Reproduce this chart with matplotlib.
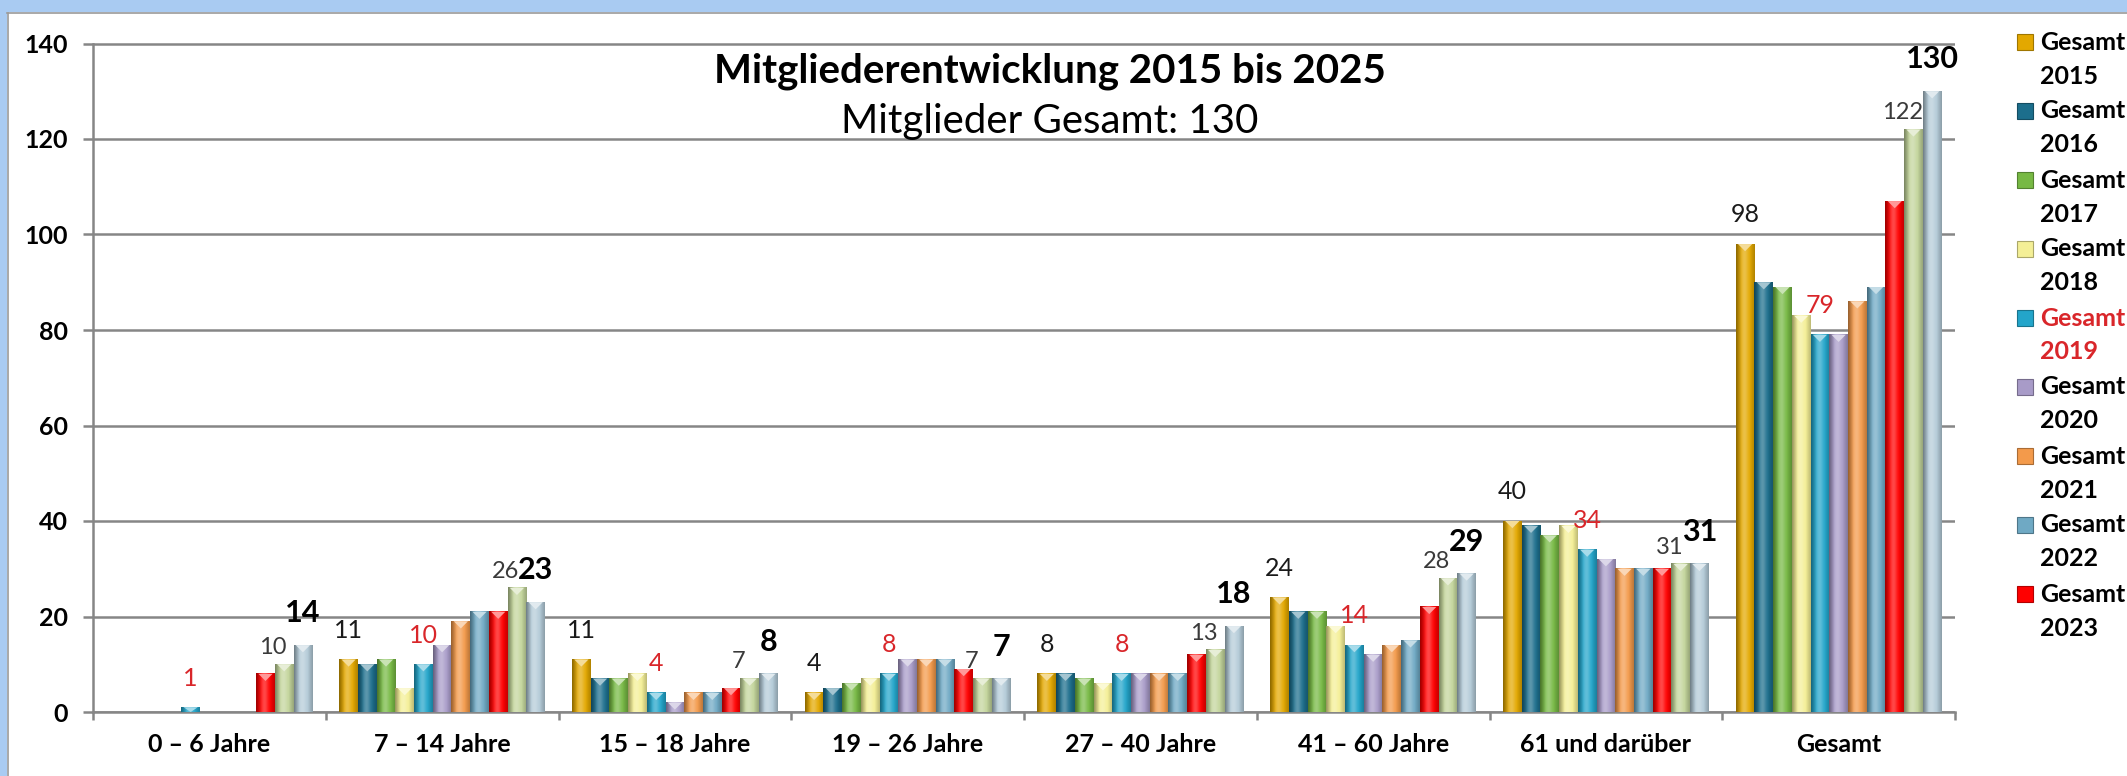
import numpy as np
import matplotlib
matplotlib.use("Agg")
import matplotlib.pyplot as plt
from matplotlib.colors import to_rgb
from matplotlib.patches import Rectangle
from matplotlib.lines import Line2D

# --- Chart data ---
categories = ["0 – 6 Jahre", "7 – 14 Jahre", "15 – 18 Jahre", "19 – 26 Jahre",
              "27 – 40 Jahre", "41 – 60 Jahre", "61 und darüber", "Gesamt"]
years = [2015, 2016, 2017, 2018, 2019, 2020, 2021, 2022, 2023, 2024, 2025]

v2015 = [0, 11, 11, 4, 8, 24, 40, 98]
v2016 = [0, 10, 7, 5, 8, 21, 39, 90]
v2017 = [0, 11, 7, 6, 7, 21, 37, 89]
v2018 = [0, 5, 8, 7, 6, 18, 39, 83]
v2019 = [1, 10, 4, 8, 8, 14, 34, 79]
v2020 = [0, 14, 2, 11, 8, 12, 32, 79]
v2021 = [0, 19, 4, 11, 8, 14, 30, 86]
v2022 = [0, 21, 4, 11, 8, 15, 30, 89]
v2023 = [8, 21, 5, 9, 12, 22, 30, 107]
v2024 = [10, 26, 7, 7, 13, 28, 31, 122]
v2025 = [14, 23, 8, 7, 18, 29, 31, 130]

series = [v2015, v2016, v2017, v2018, v2019, v2020, v2021, v2022, v2023, v2024, v2025]
series_names = [f"Gesamt {y}" for y in years]
legend_count = 9  # the legend box in the original is cut after 2023

colors = ["#E3A800", "#1C6E8C", "#77B944", "#F4EF96", "#23A5CA", "#A89BC8",
          "#F39A4B", "#6FA9C4", "#FF0000", "#C3D59B", "#B4CBD8"]

title = "Mitgliederentwicklung 2015 bis 2025"
subtitle = "Mitglieder Gesamt: 130"

plt.rcParams['font.family'] = ['Lato', 'DejaVu Sans']

W, H = 2127, 776
fig = plt.figure(figsize=(W / 100, H / 100), dpi=100)
fig.patch.set_facecolor("white")

# light blue window frame (top + left) with thin gray inner line
fig.add_artist(Rectangle((0, 1 - 12 / H), 1, 12 / H, transform=fig.transFigure,
                         facecolor="#A9CBF2", edgecolor="none"))
fig.add_artist(Rectangle((0, 0), 7 / W, 1, transform=fig.transFigure,
                         facecolor="#A9CBF2", edgecolor="none"))
fig.add_artist(Line2D([7 / W, 1], [1 - 13 / H, 1 - 13 / H], transform=fig.transFigure,
                      color="#9A9A9A", lw=1.2))
fig.add_artist(Line2D([7.5 / W, 7.5 / W], [0, 1 - 13 / H], transform=fig.transFigure,
                      color="#9A9A9A", lw=1.2))

ax = fig.add_axes([93 / W, 1 - 712 / H, (1955 - 93) / W, (712 - 43.5) / H])

n = len(series)
cluster = 0.884
bw = cluster / n
x = np.arange(len(categories))

# horizontal shading profile for the bevelled bar look
t = np.linspace(0, 1, 40)
dark = 0.38 * np.clip(1 - t / 0.3, 0, 1) + 0.22 * np.clip((t - 0.72) / 0.28, 0, 1)
light = 0.28 * np.exp(-((t - 0.45) / 0.2) ** 2)

tri_h = 1.5  # bevel tip height in data units

for i, (vals, col) in enumerate(zip(series, colors)):
    xpos = x - cluster / 2 + (i + 0.5) * bw
    bars = ax.bar(xpos, vals, width=bw, color=col, edgecolor="none", zorder=2)
    c = np.array(to_rgb(col))
    grad = c[None, :] * (1 - dark[:, None])
    grad = grad + (1 - grad) * light[:, None]
    for b, v in zip(bars, vals):
        if v <= 0:
            continue
        x0 = b.get_x()
        ax.imshow(grad[None, :, :], extent=(x0, x0 + bw, 0, v), aspect="auto",
                  interpolation="bilinear", zorder=3)
        h = min(tri_h, v)
        tip = c + (1 - c) * 0.6
        ax.fill([x0 + 0.12 * bw, x0 + 0.88 * bw, x0 + 0.5 * bw], [v, v, v - h],
                color=tip, zorder=4, lw=0)

    # data labels only for 2015, 2019, 2024, 2025
    y = years[i]
    for xc, v in zip(xpos, vals):
        if v <= 0:
            continue
        if y == 2015:
            ax.annotate(str(v), (xc, v), xytext=(0, 21), textcoords="offset points",
                        ha="center", va="center", fontsize=18, color="#1A1A1A", zorder=6)
        elif y == 2019:
            ax.annotate(str(v), (xc, v), xytext=(0, 21), textcoords="offset points",
                        ha="center", va="center", fontsize=18, color="#D9262A", zorder=6)
        elif y == 2024:
            ax.annotate(str(v), (xc, v), xytext=(-8, 12), textcoords="offset points",
                        ha="center", va="center", fontsize=17, color="#3A3A3A", zorder=6)
        elif y == 2025:
            ax.annotate(str(v), (xc, v), xytext=(0, 23), textcoords="offset points",
                        ha="center", va="center", fontsize=22, fontweight="bold",
                        color="black", zorder=6)

ax.set_xlim(-0.5, len(categories) - 0.5)
ax.set_ylim(0, 140)
ax.set_yticks(np.arange(0, 141, 20))
ax.set_xticks(x)
ax.set_xticklabels(categories, fontsize=18, fontweight="bold")
ax.set_xticks(np.arange(-0.5, len(categories), 1), minor=True)
for lab in ax.get_yticklabels():
    lab.set_fontweight("bold")
    lab.set_fontsize(18)

grid_col = "#868686"
ax.grid(axis="y", color=grid_col, lw=1.8, zorder=0)
ax.set_axisbelow(True)
ax.tick_params(axis="y", length=7, width=1.8, color=grid_col, pad=11)
ax.tick_params(axis="x", which="major", length=0, pad=15)
ax.tick_params(axis="x", which="minor", length=6, width=1.8, color=grid_col)
for side in ["top", "right"]:
    ax.spines[side].set_visible(False)
for side in ["left", "bottom"]:
    ax.spines[side].set_color(grid_col)
    ax.spines[side].set_linewidth(1.8)

# titles
fig.text(1050 / W, 1 - 71 / H, title, ha="center", va="center",
         fontsize=29, fontweight="bold")
fig.text(1050 / W, 1 - 121 / H, subtitle, ha="center", va="center", fontsize=29)

# legend, drawn by hand so it can be cut like the original
for i in range(legend_count):
    yc = 42 + i * 69
    col = colors[i]
    fig.add_artist(Rectangle((2017 / W, 1 - (yc + 8) / H), 16 / W, 16 / H,
                             transform=fig.transFigure, facecolor=col,
                             edgecolor=tuple(np.array(to_rgb(col)) * 0.7), lw=0.8))
    txt_col = "#D9262A" if years[i] == 2019 else "black"
    word, yr = series_names[i].split(" ")
    fig.text(2040 / W, 1 - yc / H, word, ha="left", va="center", fontsize=18,
             fontweight="bold", color=txt_col)
    fig.text(2040 / W, 1 - (yc + 34) / H, yr, ha="left", va="center", fontsize=18,
             fontweight="bold", color=txt_col)

fig.savefig("out.png", dpi=100)
